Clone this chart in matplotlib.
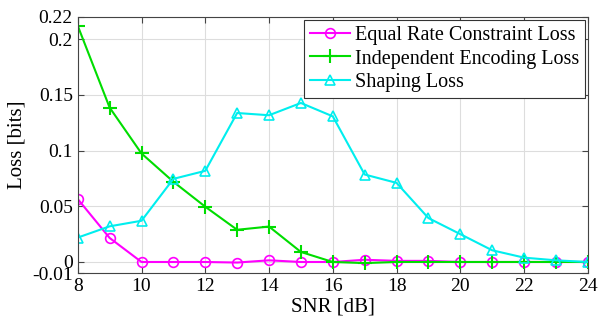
import numpy as np
import matplotlib
matplotlib.use('Agg')
import matplotlib.pyplot as plt

# data
snr = [8, 9, 10, 11, 12, 13, 14, 15, 16, 17, 18, 19, 20, 21, 22, 23, 24]
equal_rate = [0.0565, 0.0216, 0.0, 0.0, 0.0, -0.0005, 0.0015, 0.0, 0.0, 0.002, 0.001,
              0.001, 0.0, 0.0, 0.0, 0.0, 0.0]
indep_enc = [0.212, 0.1386, 0.0974, 0.072, 0.0496, 0.0289, 0.0318, 0.009, 0.0, -0.001,
             0.0, 0.0, 0.0, 0.0, 0.0, 0.0, 0.0]
shaping = [0.0219, 0.032, 0.037, 0.0746, 0.0818, 0.1337, 0.1317, 0.1427, 0.1307, 0.0785,
           0.071, 0.0394, 0.025, 0.0105, 0.0039, 0.0015, 0.0]
yticks = [-0.01, 0, 0.05, 0.1, 0.15, 0.2, 0.22]
ytick_labels = ['-0.01', '0', '0.05', '0.1', '0.15', '0.2', '0.22']

plt.rcParams['font.family'] = ['Liberation Serif', 'DejaVu Serif']

fig = plt.figure(figsize=(5.98, 3.24), dpi=100)
ax = fig.add_axes([0.130, 0.157, 0.853, 0.791])

ax.plot(snr, equal_rate, color='#ff00ff', marker='o', markersize=7, markerfacecolor='none',
        markeredgewidth=1.2, linewidth=1.5, label='Equal Rate Constraint Loss')
ax.plot(snr, indep_enc, color='#00dd00', marker='+', markersize=10, markeredgewidth=1.5,
        linewidth=1.5, label='Independent Encoding Loss')
ax.plot(snr, shaping, color='#00eeee', marker='^', markersize=7, markerfacecolor='none',
        markeredgewidth=1.2, linewidth=1.5, label='Shaping Loss')

ax.set_xlim(8, 24)
ax.set_ylim(-0.01, 0.22)
ax.set_xticks(range(8, 25, 2))
ax.set_yticks(yticks)
ax.set_yticklabels(ytick_labels)
ax.tick_params(direction='in', top=True, right=True, labelsize=14, length=4, color='#444444')
ax.grid(True, color='#dddddd', linewidth=0.8)
for s in ax.spines.values():
    s.set_color('#444444')
    s.set_linewidth(0.8)

ax.set_xlabel('SNR [dB]', fontsize=15, labelpad=2)
ax.set_ylabel('Loss [bits]', fontsize=15, labelpad=4)

leg = ax.legend(loc='upper right', fontsize=14.5, fancybox=False, framealpha=1,
                edgecolor='#333333', borderpad=0.3, labelspacing=0.22, handlelength=2.0,
                handletextpad=0.2, borderaxespad=0.15)
leg.get_frame().set_linewidth(0.8)

fig.savefig('out.png', dpi=100)
